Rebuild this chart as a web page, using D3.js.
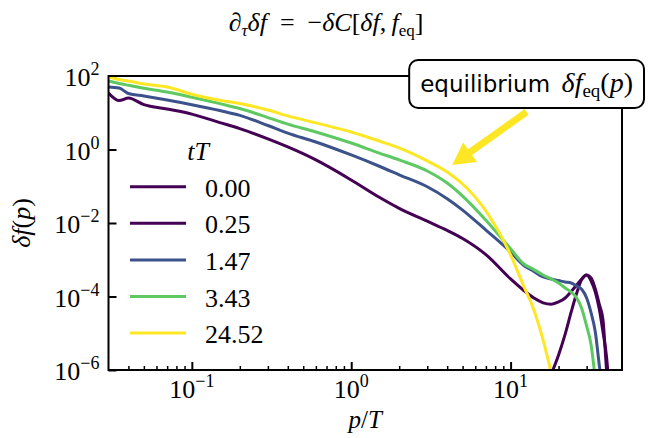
<!DOCTYPE html>
<html>
<head>
<meta charset="utf-8">
<script src="https://cdn.jsdelivr.net/npm/d3@7"></script>
<style>
  body { margin: 0; background: #fff; }
  text { fill: #000; }
  .serif { font-family: "Liberation Serif", "Times New Roman", "DejaVu Serif", "Noto Serif", serif; }
  .sans { font-family: "DejaVu Sans", "Liberation Sans", sans-serif; }
</style>
</head>
<body>
<svg id="chart" width="651" height="438"></svg>
<script>
// momentum grid p/T
const momenta = [0.03, 0.035, 0.04, 0.05, 0.07, 0.1, 0.15, 0.2, 0.3, 0.4, 0.6, 1, 1.5, 2, 3, 4, 5, 7,
                 10, 12, 14, 16, 18, 20, 22, 24, 26, 28, 30, 32, 34, 36, 38, 40, 42];

const times = ["0.00", "0.25", "1.47", "3.43", "24.52"];
const colors = ["#440154", "#440154", "#3b528b", "#5ec962", "#fde725"];

// delta f(p), one array per time
const f_t000 = [null, null, null, null, null, null, null, null, null, null, null, null, null, null, null, null, null, null,
                null, null, null, 1e-7, 7.3e-7, 2.56e-6, 9.5e-6, 3.8e-5, 1.24e-4, 3.0e-4, 3.85e-4, 2.64e-4, 1.32e-4, 4.6e-5, 1.08e-5, 2.26e-6, 1.5e-7];
const f_t025 = [34.5, 21.5, 25.2, 16.6, 12.6, 9.2, 5.4, 3.7, 1.94, 1.17, 0.52, 0.148, 0.050, 0.025, 0.0112, 6.3e-3, 3.8e-3, 1.38e-3,
                3.0e-4, 1.5e-4, 9.1e-5, 6.7e-5, 6.2e-5, 7.1e-5, 9.1e-5, 1.37e-4, 2.06e-4, 3.0e-4, 3.85e-4, 3.2e-4, 1.6e-4, 6.2e-5, 2.3e-5, 1e-6, 1e-7];
const f_t147 = [50, 47, 33.4, 28.6, 22.2, 16.6, 11.5, 8.5, 4.5, 2.8, 1.60, 0.71, 0.35, 0.205, 0.097, 0.046, 0.0225, 6.4e-3,
                1.62e-3, 7.2e-4, 4.8e-4, 3.4e-4, 3.0e-4, 2.72e-4, 2.48e-4, 2.33e-4, 1.93e-4, 1.55e-4, 9.1e-5, 3.56e-5, 1.08e-5, 1.37e-6, 2e-7, null, null];
const f_t343 = [73, 62.5, 55.8, 46.6, 36.7, 26.5, 17.7, 13.0, 7.4, 4.9, 3.0, 1.50, 0.80, 0.52, 0.26, 0.122, 0.054, 0.0119,
                1.98e-3, 7.9e-4, 5.4e-4, 3.85e-4, 3.0e-4, 2.33e-4, 1.70e-4, 1.32e-4, 9.1e-5, 4.6e-5, 1.57e-5, 4.8e-6, 5.4e-7, null, null, null, null];
const f_t2452 = [94, 80, 73, 60.5, 50, 32, 22, 17.9, 11.9, 8.2, 5.3, 3.0, 1.70, 1.10, 0.49, 0.244, 0.115, 0.0212,
                 1.35e-3, 2.06e-4, 4.3e-5, 6.5e-6, 8.3e-7, 1.1e-7, null, null, null, null, null, null, null, null, null, null, null];

const series = [f_t000, f_t025, f_t147, f_t343, f_t2452];

const xMajor = [0.1, 1, 10];
const xMajorExp = ["\u22121", "0", "1"];
const xMinor = [0.04, 0.05, 0.06, 0.07, 0.08, 0.09, 0.2, 0.3, 0.4, 0.5, 0.6, 0.7, 0.8, 0.9,
                2, 3, 4, 5, 6, 7, 8, 9, 20, 30, 40];
const yMajor = [1e-6, 1e-4, 1e-2, 1, 1e2];
const yMajorExp = ["\u22126", "\u22124", "\u22122", "0", "2"];

// annotation (data coordinates)
const noteAt = [12.6, 36.7];
const arrowTail = [12.6, 10.5];
const arrowTip = [4.3, 0.38];

const svg = d3.select("#chart");
const x = d3.scaleLog().domain([0.03, 50]).range([108.5, 622]);
const y = d3.scaleLog().domain([1e-6, 1e2]).range([370, 76]);
const [x0, x1] = x.range();
const [y0, y1] = y.range();

svg.append("defs").append("clipPath").attr("id", "plotclip")
   .append("rect")
   .attr("x", x0).attr("y", y1)
   .attr("width", x1 - x0).attr("height", y0 - y1);

// ticks (inward)
const gx = svg.append("g").attr("transform", `translate(0,${y0})`);
gx.call(d3.axisBottom(x).tickValues(xMajor).tickSize(-8).tickFormat(""));
gx.call(g => g.select(".domain").remove());
const gxm = svg.append("g").attr("transform", `translate(0,${y0})`);
gxm.call(d3.axisBottom(x).tickValues(xMinor).tickSize(-4).tickFormat(""));
gxm.call(g => g.select(".domain").remove());
gxm.selectAll("line").attr("stroke-width", 1.5);
gx.selectAll("line").attr("stroke-width", 2);

const gy = svg.append("g").attr("transform", `translate(${x0},0)`);
gy.call(d3.axisLeft(y).tickValues(yMajor).tickSize(-8).tickFormat(""));
gy.call(g => g.select(".domain").remove());
gy.selectAll("line").attr("stroke-width", 2);

function powerLabel(sel, exp) {
  sel.append("tspan").text("10");
  sel.append("tspan").style("font-size", "18px").attr("dy", -11).text(exp);
}

xMajor.forEach((v, i) => {
  svg.append("text")
     .attr("class", "serif")
     .attr("x", x(v)).attr("y", y0 + 28)
     .attr("text-anchor", "middle")
     .style("font-size", "26px")
     .call(powerLabel, xMajorExp[i]);
});

yMajor.forEach((v, i) => {
  svg.append("text")
     .attr("class", "serif")
     .attr("x", x0 - 9).attr("y", y(v) + 10)
     .attr("text-anchor", "end")
     .style("font-size", "26px")
     .call(powerLabel, yMajorExp[i]);
});

// curves
const line = d3.line()
               .defined(d => d[1] != null)
               .x(d => x(d[0]))
               .y(d => y(d[1]))
               .curve(d3.curveMonotoneX);

svg.append("g")
   .attr("clip-path", "url(#plotclip)")
   .selectAll("path")
   .data(series)
   .join("path")
   .attr("d", s => line(momenta.map((p, i) => [p, s[i]])))
   .attr("fill", "none")
   .attr("stroke", (d, i) => colors[i])
   .attr("stroke-width", 3)
   .attr("stroke-linejoin", "round");

// frame
svg.append("rect")
   .attr("x", x0).attr("y", y1)
   .attr("width", x1 - x0).attr("height", y0 - y1)
   .attr("fill", "none").attr("stroke", "#000").attr("stroke-width", 2);

// legend
const legend = svg.append("g");
legend.append("text")
      .attr("class", "serif")
      .attr("x", 198).attr("y", 160)
      .attr("text-anchor", "middle")
      .style("font-size", "26px").style("font-style", "italic")
      .text("tT");
times.forEach((t, i) => {
  const ly = 186.7 + i * 36.6;
  legend.append("line")
        .attr("x1", 130).attr("x2", 186).attr("y1", ly).attr("y2", ly)
        .attr("stroke", colors[i]).attr("stroke-width", 3);
  legend.append("text")
        .attr("class", "serif")
        .attr("x", 205).attr("y", ly + 10)
        .style("font-size", "26px")
        .text(t);
});

// title
const title = svg.append("text")
   .attr("class", "serif")
   .attr("x", 326).attr("y", 31)
   .attr("text-anchor", "middle")
   .style("font-size", "26px");
const it = s => title.append("tspan").style("font-style", "italic").text(s);
title.append("tspan").text("\u2202");
title.append("tspan").style("font-style", "italic").style("font-size", "17px").attr("dy", 5).text("\u03c4");
title.append("tspan").style("font-style", "italic").attr("dy", -5).text("\u03b4f");
title.append("tspan").text("\u2002=\u2002\u2212");
it("\u03b4C");
title.append("tspan").text("[");
it("\u03b4f");
title.append("tspan").text(",\u2009");
it("f");
title.append("tspan").style("font-size", "17px").attr("dy", 5).text("eq");
title.append("tspan").attr("dy", -5).text("]");

// axis labels
const xl = svg.append("text")
   .attr("class", "serif")
   .attr("x", (x0 + x1) / 2).attr("y", 428)
   .attr("text-anchor", "middle")
   .style("font-size", "25px");
xl.append("tspan").style("font-style", "italic").text("p");
xl.append("tspan").text("/");
xl.append("tspan").style("font-style", "italic").text("T");

const yl = svg.append("text")
   .attr("class", "serif")
   .attr("transform", `translate(30,${(y0 + y1) / 2}) rotate(-90)`)
   .attr("text-anchor", "middle")
   .style("font-size", "26px");
yl.append("tspan").style("font-style", "italic").text("\u03b4f");
yl.append("tspan").text("(");
yl.append("tspan").style("font-style", "italic").text("p");
yl.append("tspan").text(")");

// arrow
const tail = [x(arrowTail[0]), y(arrowTail[1])];
const tip = [x(arrowTip[0]), y(arrowTip[1])];
const len = Math.hypot(tip[0] - tail[0], tip[1] - tail[1]);
const u = [(tip[0] - tail[0]) / len, (tip[1] - tail[1]) / len];
const n = [-u[1], u[0]];
const headLen = 22, headHalf = 12, shaftHalf = 3.5;
const base = [tip[0] - u[0] * headLen, tip[1] - u[1] * headLen];
const pt = (p, k) => [p[0] + n[0] * k, p[1] + n[1] * k];
svg.append("polygon")
   .attr("points", [pt(tail, shaftHalf), pt(base, shaftHalf), pt(base, headHalf), tip,
                    pt(base, -headHalf), pt(base, -shaftHalf), pt(tail, -shaftHalf)]
                   .map(p => p.join(",")).join(" "))
   .attr("fill", "#fde725");

// annotation box
const note = svg.append("g");
const noteText = note.append("text")
   .attr("x", x(noteAt[0])).attr("y", y(noteAt[1]))
   .attr("text-anchor", "middle");
noteText.append("tspan").attr("class", "sans").style("font-size", "23px").text("equilibrium\u2002");
noteText.append("tspan").attr("class", "serif").style("font-size", "28px").style("font-style", "italic").text("\u03b4f");
noteText.append("tspan").attr("class", "serif").style("font-size", "19px").attr("dy", 5).text("eq");
noteText.append("tspan").attr("class", "serif").style("font-size", "28px").attr("dy", -5).text("(");
noteText.append("tspan").attr("class", "serif").style("font-size", "28px").style("font-style", "italic").text("p");
noteText.append("tspan").attr("class", "serif").style("font-size", "28px").text(")");
const bb = noteText.node().getBBox();
note.insert("rect", "text")
    .attr("x", bb.x - 11).attr("y", bb.y - 7)
    .attr("width", bb.width + 22).attr("height", bb.height + 14)
    .attr("rx", 9)
    .attr("fill", "#fff").attr("stroke", "#000").attr("stroke-width", 2);
</script>
</body>
</html>
